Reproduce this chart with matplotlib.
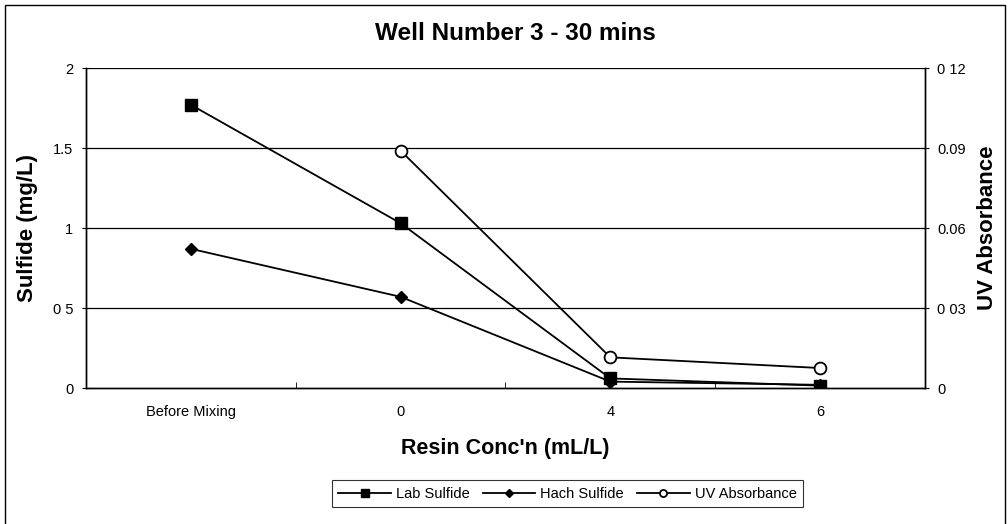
import numpy as np
import matplotlib
matplotlib.use('Agg')
import matplotlib.pyplot as plt
from matplotlib.patches import Rectangle

# Data
categories = ['Before Mixing', '0', '4', '6']
lab_sulfide = [1.77, 1.03, 0.06, 0.015]
hach_sulfide = [0.87, 0.57, 0.04, 0.02]
uv_absorbance = [np.nan, 0.089, 0.0115, 0.0075]

left_ticks = [0, 0.5, 1, 1.5, 2]
left_labels = ['0', '0 5', '1', '1.5', '2']
right_ticks = [0, 0.03, 0.06, 0.09, 0.12]
right_labels = ['0', '0 03', '0.06', '0.09', '0 12']

plt.rcParams['font.family'] = ['Liberation Sans', 'DejaVu Sans']

fig = plt.figure(figsize=(10.08, 5.24), dpi=100)
ax = fig.add_axes([0.0853, 0.2595, 0.8323, 0.6107])
ax2 = ax.twinx()

x = np.arange(len(categories))

# horizontal gridlines
for t in left_ticks[1:]:
    ax.axhline(t, color='black', lw=0.9, zorder=0)

l1, = ax.plot(x, lab_sulfide, color='black', lw=1.3, marker='s', markersize=9,
              label='Lab Sulfide', zorder=3)
l2, = ax.plot(x, hach_sulfide, color='black', lw=1.3, marker='D', markersize=6.5,
              label='Hach Sulfide', zorder=3)
l3, = ax2.plot(x, uv_absorbance, color='black', lw=1.3, marker='o', markersize=8.5,
               markerfacecolor='white', markeredgewidth=1.3, label='UV Absorbance', zorder=3)

ax.set_xlim(-0.5, 3.5)
ax.set_ylim(0, 2)
ax2.set_ylim(0, 0.12)

ax.set_xticks(x)
ax.set_xticklabels(categories)
ax.set_xticks([0.5, 1.5, 2.5], minor=True)
ax.tick_params(axis='x', which='major', length=0, pad=12, labelsize=10.5)
ax.tick_params(axis='x', which='minor', length=4, direction='in')

ax.set_yticks(left_ticks)
ax.set_yticklabels(left_labels)
ax.tick_params(axis='y', length=6, direction='inout', labelsize=10.5, pad=6)
ax2.set_yticks(right_ticks)
ax2.set_yticklabels(right_labels)
ax2.tick_params(axis='y', length=6, direction='inout', labelsize=10.5, pad=6)

for a in (ax, ax2):
    a.spines['top'].set_visible(False)
    for s in ('left', 'right', 'bottom'):
        a.spines[s].set_color('black')
        a.spines[s].set_linewidth(1.0)

ax.set_ylabel('Sulfide (mg/L)', fontsize=16, fontweight='bold', labelpad=11)
ax2.set_ylabel('UV Absorbance', fontsize=16, fontweight='bold', labelpad=8)
ax.set_xlabel("Resin Conc'n (mL/L)", fontsize=15.5, fontweight='bold', labelpad=14)
fig.text(0.511, 0.937, 'Well Number 3 - 30 mins', ha='center', va='center',
         fontsize=17.5, fontweight='bold')

leg = fig.legend(handles=[l1, l2, l3], loc='center', bbox_to_anchor=(0.563, 0.058),
                 ncol=3, fontsize=10.5, frameon=True, fancybox=False, edgecolor='black',
                 handlelength=3.6, columnspacing=0.9, handletextpad=0.35, borderpad=0.45,
                 markerscale=0.6)
leg.get_frame().set_linewidth(0.8)

# outer chart border (bottom edge runs off the scan)
fig.patches.append(Rectangle((0.005, -0.05), 0.992, 1.04, transform=fig.transFigure,
                             fill=False, edgecolor='black', lw=1.0))

fig.savefig('out.png', dpi=100)
